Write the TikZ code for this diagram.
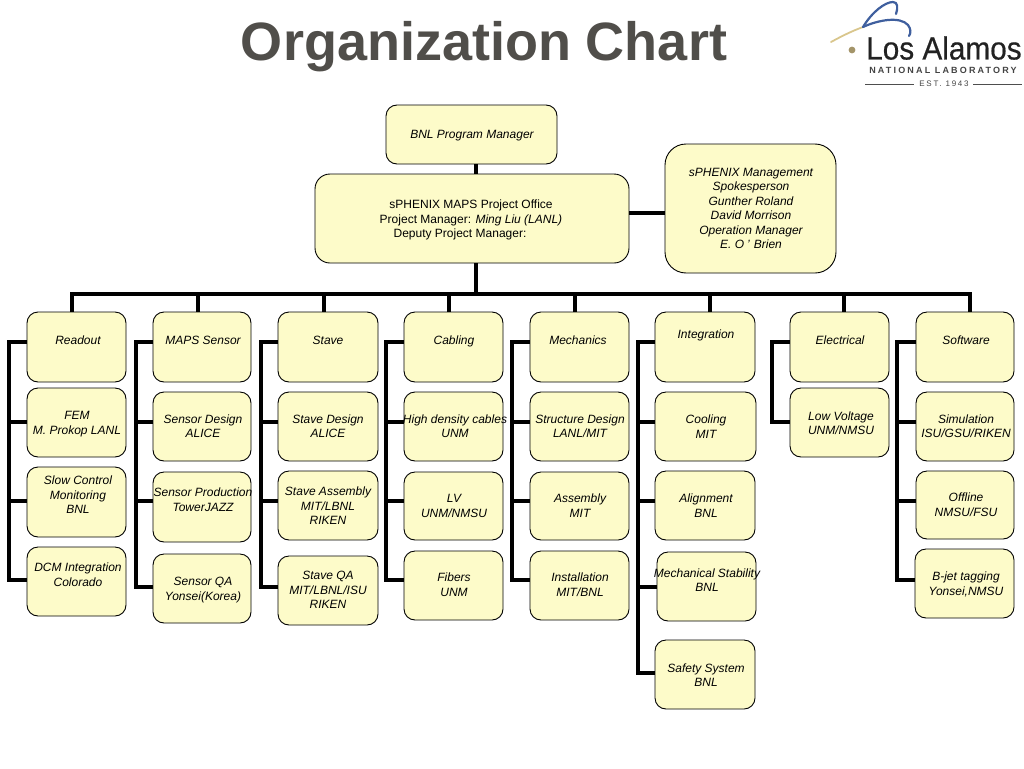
\documentclass[tikz,border=0pt]{standalone}
\usepackage{fontspec}
\setmainfont{Liberation Sans}
\definecolor{boxfill}{HTML}{FDFBC9}
\definecolor{titlegray}{HTML}{504E4A}
\definecolor{logoblue}{HTML}{3F5F9E}
\definecolor{logogold}{HTML}{D9C68C}
\definecolor{logogray}{HTML}{222222}
\tikzset{
  orgbox/.style={draw=black,line width=0.9pt,fill=boxfill,rounded corners=11pt,inner sep=0pt},
  lbl/.style={align=center,font=\fontsize{12}{14.5}\selectfont\itshape,inner sep=0pt,yshift=-1.5pt},
  lblup/.style={align=center,font=\fontsize{12}{14.5}\selectfont,inner sep=0pt,yshift=-1.5pt},
  conn/.style={draw=black,line width=4pt,line cap=butt,line join=miter},
  titletext/.style={font=\fontsize{54}{60}\selectfont\bfseries,text=titlegray,inner sep=0pt},
}
% name, x0, y0, x1, y1
\newcommand{\orgbx}[5]{\node[orgbox,minimum width={(#4-#2)*1pt},minimum height={(#5-#3)*1pt}] (#1) at ({(#2+#4)/2},{(#3+#5)/2}) {};}
\newcommand{\orgtx}[4]{\node[lbl] (#1t) at (#2,#3) {\vphantom{Ag}#4\vphantom{Ag}};}
\begin{document}
\begin{tikzpicture}[x=1pt,y=-1pt]
\useasboundingbox (0,0) rectangle (1024,768);
\node[titletext] (title) at (484,47) {\vphantom{Ag}Organization Chart};

% logo
\draw[logogold,line width=1.8pt,line cap=round] (831,42) .. controls (842,36) and (852,31) .. (863,27);
\draw[logoblue,line width=2.2pt,line cap=round] (863,27) .. controls (872,12) and (885,2) .. (893,2) .. controls (898,2) and (898,8) .. (896,14);
\draw[logoblue,line width=2.2pt,line cap=round] (863,27) .. controls (878,20) and (900,16) .. (908,25) .. controls (911,29) and (911,33) .. (909,36);
\fill[logogold!75!black] (852,50) circle (3.4pt);
\node[font=\fontsize{32}{34}\selectfont\addfontfeatures{FakeBold=0.5},text=logogray,inner sep=0pt,anchor=base west] (logoa) at (866,59.5) {\scalebox{0.93}[1]{Los Alamos}};
\node[font=\fontsize{9}{10}\selectfont\bfseries\addfontfeatures{LetterSpace=24},text=logogray!85!white,inner sep=0pt] (logob) at (943,70) {NATIONAL LABORATORY};
\node[font=\fontsize{8}{8}\selectfont\addfontfeatures{LetterSpace=22},text=logogray!85!white,inner sep=0pt] (logoc) at (944,84) {EST. 1943};
\coordinate (la) at (865,84); \coordinate (lb) at (1022,84);
\coordinate (lc) at (914,84); \coordinate (ld) at (973,84);
\draw[logogray!80!white,line width=1pt] (la) -- (lc);
\draw[logogray!80!white,line width=1pt] (ld) -- (lb);

% top boxes
\orgbx{pm}{386}{105}{557}{164}
\node[orgbox,rounded corners=15pt,minimum width=314pt,minimum height=89pt] (office) at (472,218.5) {};
\node[orgbox,rounded corners=21pt,minimum width=171pt,minimum height=129pt] (mgmt) at (750.5,208.5) {};
\orgtx{pm}{472}{134}{BNL Program Manager}
\node[lblup] (officet) at (471,218.5) {\vphantom{Ag}sPHENIX MAPS Project Office\\Project Manager: \textit{Ming Liu (LANL)}\\Deputy Project Manager:\hspace*{22pt}\vphantom{Ag}};
\orgtx{mgmt}{751}{208}{sPHENIX Management\\Spokesperson\\Gunther Roland\\David Morrison\\Operation Manager\\E. O\hspace{3pt}’\hspace{4pt}Brien}

% column 1
\orgbx{a1}{27}{312}{126}{382}\orgtx{a1}{78}{340}{Readout}
\orgbx{a2}{27}{388}{126}{457}\orgtx{a2}{77}{422.5}{FEM\\M. Prokop LANL}
\orgbx{a3}{27}{467}{126}{537}\orgtx{a3}{78}{494.5}{Slow Control\\Monitoring\\BNL}
\orgbx{a4}{27}{547}{126}{616}\orgtx{a4}{78}{574.5}{DCM Integration\\Colorado}
% column 2
\orgbx{b1}{153}{312}{251}{382}\orgtx{b1}{203}{340}{MAPS Sensor}
\orgbx{b2}{153}{392}{251}{461}\orgtx{b2}{203}{426}{Sensor Design\\ALICE}
\orgbx{b3}{153}{472}{251}{542}\orgtx{b3}{203}{499.5}{Sensor Production\\TowerJAZZ}
\orgbx{b4}{153}{554}{251}{623}\orgtx{b4}{203}{588.5}{Sensor QA\\Yonsei(Korea)}
% column 3
\orgbx{c1}{278}{312}{378}{382}\orgtx{c1}{328}{340}{Stave}
\orgbx{c2}{278}{392}{378}{461}\orgtx{c2}{328}{426}{Stave Design\\ALICE}
\orgbx{c3}{278}{471}{378}{540}\orgtx{c3}{328}{505.5}{Stave Assembly\\MIT/LBNL\\RIKEN}
\orgbx{c4}{278}{556}{378}{625}\orgtx{c4}{328}{590}{Stave QA\\MIT/LBNL/ISU\\RIKEN}
% column 4
\orgbx{d1}{404}{312}{503}{382}\orgtx{d1}{454}{340}{Cabling}
\orgbx{d2}{404}{392}{503}{461}\orgtx{d2}{455}{426}{High density cables\\UNM}
\orgbx{d3}{404}{472}{503}{540}\orgtx{d3}{454}{505.5}{LV\\UNM/NMSU}
\orgbx{d4}{404}{551}{503}{620}\orgtx{d4}{454}{584.5}{Fibers\\UNM}
% column 5
\orgbx{e1}{530}{312}{629}{382}\orgtx{e1}{578}{340}{Mechanics}
\orgbx{e2}{530}{392}{629}{461}\orgtx{e2}{580}{426}{Structure Design\\LANL/MIT}
\orgbx{e3}{530}{472}{629}{540}\orgtx{e3}{580}{505.5}{Assembly\\MIT}
\orgbx{e4}{530}{551}{629}{620}\orgtx{e4}{580}{584.5}{Installation\\MIT/BNL}
% column 6
\orgbx{f1}{655}{312}{755}{382}\orgtx{f1}{706}{333.5}{Integration}
\orgbx{f2}{655}{392}{756}{461}\orgtx{f2}{706}{426.5}{Cooling\\MIT}
\orgbx{f3}{655}{471}{755}{540}\orgtx{f3}{706}{505.5}{Alignment\\BNL}
\orgbx{f4}{657}{552}{756}{621}\orgtx{f4}{707}{580}{Mechanical Stability\\BNL}
\orgbx{f5}{655}{640}{755}{709}\orgtx{f5}{706}{675}{Safety System\\BNL}
% column 7
\orgbx{g1}{790}{312}{889}{382}\orgtx{g1}{840}{340}{Electrical}
\orgbx{g2}{790}{388}{889}{457}\orgtx{g2}{841}{423}{Low Voltage\\UNM/NMSU}
% column 8
\orgbx{h1}{916}{312}{1014}{382}\orgtx{h1}{966}{340}{Software}
\orgbx{h2}{916}{392}{1014}{461}\orgtx{h2}{966}{426}{Simulation\\ISU/GSU/RIKEN}
\orgbx{h3}{916}{471}{1014}{539}\orgtx{h3}{966}{504.5}{Offline\\NMSU/FSU}
\orgbx{h4}{915}{549}{1014}{618}\orgtx{h4}{966}{583.5}{B-jet tagging\\Yonsei,NMSU}

% bus and drops
\coordinate (busL) at (72,293.5); \coordinate (busR) at (970,293.5);
\coordinate (xb) at (198,0); \coordinate (xc) at (324,0); \coordinate (xd) at (449,0);
\coordinate (xe) at (575,0); \coordinate (xf) at (710,0); \coordinate (xg) at (844,0);
\coordinate (xp) at (476,0); \coordinate (ym) at (0,213);
\draw[conn] (pm.south -| xp) -- (office.north -| xp);
\draw[conn] (office.south -| xp) -- (xp |- busL);
\draw[conn] (office.east |- ym) -- (mgmt.west |- ym);
\draw[conn] (a1.north -| busL) -- (busL) -- (busR) -- (h1.north -| busR);
\draw[conn] (xb |- busL) -- (xb |- b1.north);
\draw[conn] (xc |- busL) -- (xc |- c1.north);
\draw[conn] (xd |- busL) -- (xd |- d1.north);
\draw[conn] (xe |- busL) -- (xe |- e1.north);
\draw[conn] (xf |- busL) -- (xf |- f1.north);
\draw[conn] (xg |- busL) -- (xg |- g1.north);
% spines
\coordinate (sa) at (9,0); \coordinate (sb) at (136,0); \coordinate (sc) at (261,0); \coordinate (sd) at (386,0);
\coordinate (se) at (512,0); \coordinate (sf) at (638,0); \coordinate (sg) at (772,0); \coordinate (sh) at (897,0);
\coordinate (y1) at (0,342); \coordinate (y2) at (0,422); \coordinate (y3) at (0,501); \coordinate (y4) at (0,580); \coordinate (y5) at (0,587); \coordinate (y6) at (0,673);
\draw[conn] (a1.west |- y1) -- (sa |- y1) -- (sa |- y4) -- (a4.west |- y4);
\draw[conn] (sa |- y2) -- (a2.west |- y2);
\draw[conn] (sa |- y3) -- (a3.west |- y3);
\draw[conn] (b1.west |- y1) -- (sb |- y1) -- (sb |- y5) -- (b4.west |- y5);
\draw[conn] (sb |- y2) -- (b2.west |- y2);
\draw[conn] (sb |- y3) -- (b3.west |- y3);
\draw[conn] (c1.west |- y1) -- (sc |- y1) -- (sc |- y5) -- (c4.west |- y5);
\draw[conn] (sc |- y2) -- (c2.west |- y2);
\draw[conn] (sc |- y3) -- (c3.west |- y3);
\draw[conn] (d1.west |- y1) -- (sd |- y1) -- (sd |- y4) -- (d4.west |- y4);
\draw[conn] (sd |- y2) -- (d2.west |- y2);
\draw[conn] (sd |- y3) -- (d3.west |- y3);
\draw[conn] (e1.west |- y1) -- (se |- y1) -- (se |- y4) -- (e4.west |- y4);
\draw[conn] (se |- y2) -- (e2.west |- y2);
\draw[conn] (se |- y3) -- (e3.west |- y3);
\draw[conn] (f1.west |- y1) -- (sf |- y1) -- (sf |- y6) -- (f5.west |- y6);
\draw[conn] (sf |- y2) -- (f2.west |- y2);
\draw[conn] (sf |- y3) -- (f3.west |- y3);
\draw[conn] (sf |- y5) -- (f4.west |- y5);
\draw[conn] (g1.west |- y1) -- (sg |- y1) -- (sg |- y2) -- (g2.west |- y2);
\draw[conn] (h1.west |- y1) -- (sh |- y1) -- (sh |- y4) -- (h4.west |- y4);
\draw[conn] (sh |- y2) -- (h2.west |- y2);
\draw[conn] (sh |- y3) -- (h3.west |- y3);
\end{tikzpicture}
\end{document}
